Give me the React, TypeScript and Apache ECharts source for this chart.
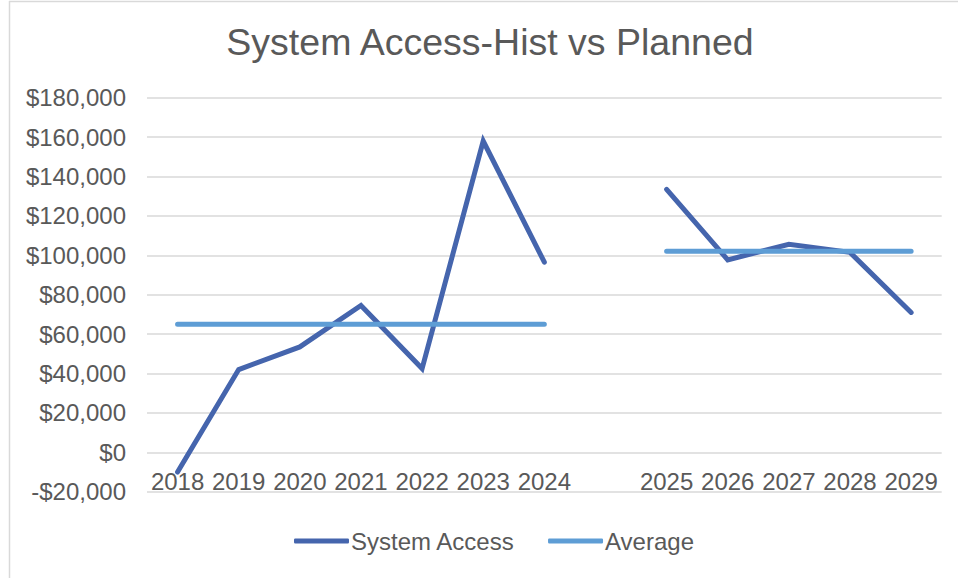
import React, { useEffect, useRef } from "react";
import * as echarts from "echarts";

const categories = ["2018", "2019", "2020", "2021", "2022", "2023", "2024", "", "2025", "2026", "2027", "2028", "2029"];
const systemAccess = [-10000, 42000, 53500, 74500, 42500, 158000, 96500, null, 133500, 97700, 105600, 101500, 71000];
const average = [65000, 65000, 65000, 65000, 65000, 65000, 65000, null, 102000, 102000, 102000, 102000, 102000];
const yMin = -20000;
const yMax = 180000;
const yStep = 20000;
const titleText = "System Access-Hist vs Planned";

const FONT = "'Liberation Sans', Arial, sans-serif";
const TEXT = "#595959";

function fmt(v: number): string {
  const s = Math.abs(v).toLocaleString("en-US");
  return v < 0 ? "-$" + s : "$" + s;
}

export default function App() {
  const ref = useRef<HTMLDivElement>(null);
  useEffect(() => {
    if (!ref.current) return;
    const chart = echarts.init(ref.current, null, { renderer: "svg" });
    chart.setOption({
      animation: false,
      backgroundColor: "#ffffff",
      textStyle: { fontFamily: FONT },
      title: {
        text: titleText,
        left: 485,
        top: 18,
        textAlign: "center",
        textStyle: { fontFamily: FONT, fontSize: 37.5, fontWeight: "normal", color: TEXT },
      },
      graphic: [
        { type: "line", shape: { x1: 9, y1: 1.5, x2: 958, y2: 1.5 }, style: { stroke: "#d9d9d9", lineWidth: 1.5 } },
        { type: "line", shape: { x1: 9.5, y1: 1, x2: 9.5, y2: 578 }, style: { stroke: "#d9d9d9", lineWidth: 1.5 } },
      ],
      legend: {
        left: 289,
        top: 524,
        itemWidth: 55,
        itemHeight: 5,
        itemGap: 33,
        icon: "roundRect",
        textStyle: { fontFamily: FONT, fontSize: 24, color: TEXT, padding: [0, 0, 0, -3] },
        data: ["System Access", "Average"],
      },
      grid: { left: 147, right: 16.3, top: 97.7, bottom: 86.3, containLabel: false },
      xAxis: {
        type: "category",
        data: categories,
        boundaryGap: true,
        axisLine: { show: false, onZero: false },
        axisTick: { show: false },
        axisLabel: { interval: 0, margin: -22, fontFamily: FONT, fontSize: 24, color: TEXT },
        splitLine: { show: false },
      },
      yAxis: {
        type: "value",
        min: yMin,
        max: yMax,
        interval: yStep,
        axisLine: { show: false },
        axisTick: { show: false },
        axisLabel: { margin: 21, fontFamily: FONT, fontSize: 24, color: TEXT, formatter: (v: number) => fmt(v) },
        splitLine: { lineStyle: { color: "#d9d9d9", width: 1.5 } },
      },
      series: [
        {
          name: "System Access",
          type: "line",
          data: systemAccess,
          showSymbol: false,
          symbol: "none",
          connectNulls: false,
          color: "#4565ad",
          lineStyle: { color: "#4565ad", width: 5, cap: "round", join: "miter" },
        },
        {
          name: "Average",
          type: "line",
          data: average,
          showSymbol: false,
          symbol: "none",
          connectNulls: false,
          color: "#5e9dd5",
          lineStyle: { color: "#5e9dd5", width: 5, cap: "round" },
        },
      ],
    });
    return () => chart.dispose();
  }, []);
  return <div ref={ref} style={{ position: "absolute", left: 0, top: 0, width: 958, height: 578 }} />;
}
